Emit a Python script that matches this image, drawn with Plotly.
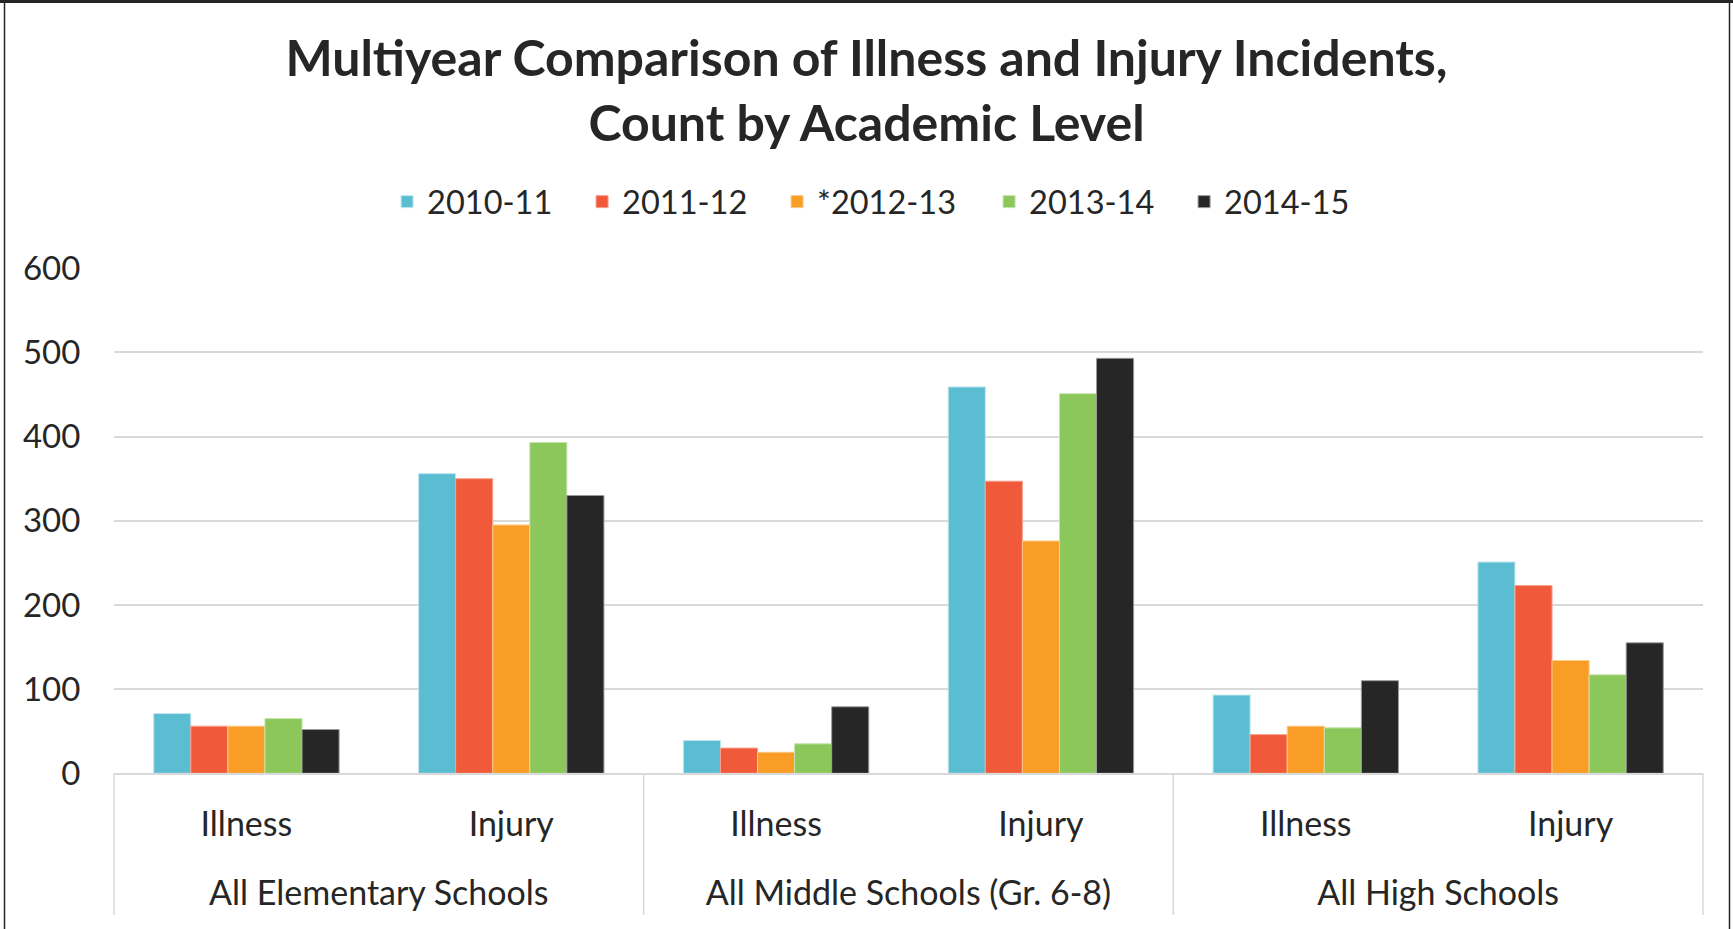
import plotly.graph_objects as go

# ---- data ----
group_names = ["All Elementary Schools", "All Middle Schools (Gr. 6-8)", "All High Schools"]
types = ["Illness", "Injury", "Illness", "Injury", "Illness", "Injury"]

series_names = ["2010-11", "2011-12", "*2012-13", "2013-14", "2014-15"]
v_2010_11 = [71, 356, 39, 459, 93, 251]
v_2011_12 = [56, 350, 30, 347, 46, 223]
v_2012_13 = [56, 295, 25, 276, 56, 134]
v_2013_14 = [65, 393, 35, 451, 54, 117]
v_2014_15 = [52, 330, 79, 493, 110, 155]
series_values = [v_2010_11, v_2011_12, v_2012_13, v_2013_14, v_2014_15]

y_ticks = [0, 100, 200, 300, 400, 500, 600]

colors = ["#5BBDD2", "#F05A3A", "#F99D27", "#8BC75A", "#262626"]
outline = ["#BFE6EF", "#F7A08C", "#FBC98A", "#C6E3AC", "#9A9A9A"]
legend_widths = [150, 150, 167, 150, 150]

FONT = "Lato"
TXT = "#262626"
GRID = "#D9D9D9"

slots = list(range(len(types)))
group_centers = [2 * i + 0.5 for i in range(len(group_names))]
boundaries = [-0.5] + [2 * i + 1.5 for i in range(len(group_names))]

fig = go.Figure()
for name, vals, c, oc, lw in zip(series_names, series_values, colors, outline, legend_widths):
    fig.add_trace(go.Bar(
        x=slots, y=vals, name=name, legendwidth=lw,
        marker=dict(color=c, line=dict(color=oc, width=1)),
    ))

# carrier for the group-label axis (draws nothing)
fig.add_trace(go.Scatter(
    x=group_centers, y=[None] * len(group_centers), xaxis="x2", yaxis="y",
    mode="markers", showlegend=False, hoverinfo="skip",
))

W, H = 1733, 929
L, R, T, B = 114, 30, 268, 14
pw, ph = W - L - R, H - T - B
def px_x(x):
    return (x - L) / pw
def px_y(y):
    return (H - B - y) / ph

Y0_PX = 773.3          # pixel row of the value axis zero
dom_bottom = px_y(Y0_PX)

fig.update_layout(
    width=W, height=H,
    margin=dict(l=L, r=R, t=T, b=B, autoexpand=False),
    paper_bgcolor="white", plot_bgcolor="white",
    barmode="group", bargap=0.30, bargroupgap=0,
    font=dict(family=FONT, color=TXT, size=34),
    title=dict(
        text="<b>Multiyear Comparison of Illness and Injury Incidents,<br>Count by Academic Level</b>",
        x=0.5, xanchor="center", xref="container",
        y=1 - 76 / H, yanchor="middle", yref="container",
        font=dict(family=FONT, size=50, color=TXT),
    ),
    legend=dict(
        orientation="h", x=0.484, xanchor="center",
        y=px_y(202), yanchor="middle",
        font=dict(family=FONT, size=32.5, color=TXT),
        bgcolor="rgba(0,0,0,0)",
    ),
    yaxis=dict(
        domain=[dom_bottom, 1], automargin=False,
        range=[0, 600.3], tickmode="array", tickvals=y_ticks,
        showgrid=True, gridcolor=GRID, gridwidth=1.5,
        zeroline=False, showline=False,
        ticks="outside", ticklen=26, tickcolor="rgba(0,0,0,0)",
        tickfont=dict(family=FONT, size=33, color=TXT),
    ),
    xaxis=dict(
        anchor="y", range=[-0.5, 5.5], automargin=False,
        tickmode="array", tickvals=slots, ticktext=types,
        showgrid=False, zeroline=False,
        showline=True, linecolor=GRID, linewidth=1.5,
        ticks="outside", ticklen=20, tickcolor="rgba(0,0,0,0)",
        tickfont=dict(family=FONT, size=34, color=TXT),
    ),
    xaxis2=dict(
        overlaying="x", anchor="free", position=px_y(870), side="bottom",
        range=[-0.5, 5.5], automargin=False,
        tickmode="array", tickvals=group_centers, ticktext=group_names,
        showgrid=False, zeroline=False, showline=False, ticks="",
        tickfont=dict(family=FONT, size=34, color=TXT),
    ),
)

# group dividers below the axis
for b in boundaries:
    xp = (b + 0.5) / len(types)
    fig.add_shape(type="line", xref="paper", yref="paper",
                  x0=xp, x1=xp, y0=0, y1=dom_bottom,
                  line=dict(color=GRID, width=1.5))

# outer frame of the chart image
fig.add_shape(type="rect", xref="paper", yref="paper",
              x0=px_x(4.5), x1=px_x(1729.5), y0=px_y(940), y1=px_y(1.5),
              line=dict(color="#262626", width=1.5), fillcolor="rgba(0,0,0,0)", layer="above")
fig.add_shape(type="line", xref="paper", yref="paper",
              x0=px_x(0), x1=px_x(W), y0=px_y(1.5), y1=px_y(1.5),
              line=dict(color="#262626", width=3), layer="above")

fig.write_html("out.html", config={"displayModeBar": False},
               post_script="document.body.style.margin='0px';")
